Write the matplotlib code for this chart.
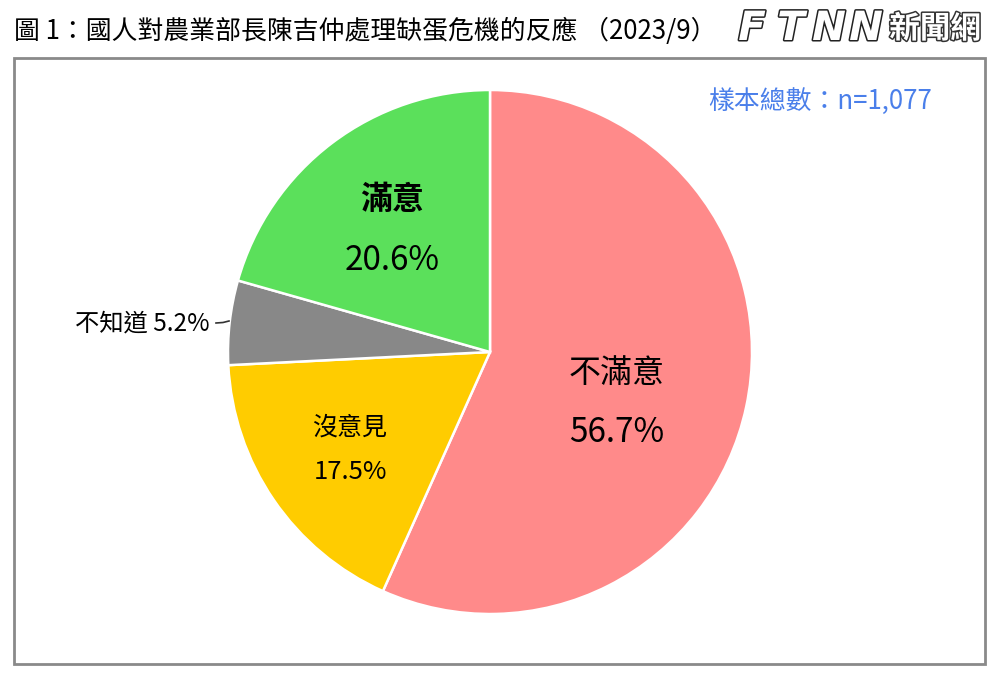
import matplotlib
matplotlib.use("Agg")
import matplotlib.pyplot as plt
import matplotlib.patheffects as pe
from matplotlib.patches import Rectangle

plt.rcParams['font.family'] = ['Noto Sans CJK TC', 'DejaVu Sans']

categories = ['不滿意', '沒意見', '不知道', '滿意']
values = [56.7, 17.5, 5.2, 20.6]
colors = ['#FF8A8A', '#FFCC00', '#888888', '#5BE05B']
title = '圖 1：國人對農業部長陳吉仲處理缺蛋危機的反應 （2023/9）'
sample_note = '樣本總數：n=1,077'
logo_letters = ['F', 'T', 'N', 'N']
logo_text = '新聞網'

W, H = 999, 684
fig = plt.figure(figsize=(W / 100, H / 100), dpi=100)
ax = fig.add_axes([0, 0, 1, 1])

def Y(y):
    return H - y

ax.pie(values, colors=colors, startangle=90, counterclock=False,
       center=(490, Y(352)), radius=262,
       wedgeprops=dict(edgecolor='white', linewidth=1.8))
ax.set_xlim(0, W)
ax.set_ylim(0, H)
ax.set_aspect('equal')
ax.axis('off')

# border
ax.add_patch(Rectangle((14, Y(664)), 971, 606, fill=False,
                       edgecolor='#8a8a8a', linewidth=2))

# title
ax.text(14, Y(31), title, fontsize=18.6, ha='left', va='center', color='black')

# logo
logo_x = [752, 791, 829, 866]
for lx, ch in zip(logo_x, logo_letters):
    ax.text(lx, Y(29), ch, fontsize=29, fontstyle='italic', fontweight='bold',
            ha='center', va='center', color='white', family=['DejaVu Sans'],
            path_effects=[pe.withStroke(linewidth=2.2, foreground='#222222')])
ax.text(935, Y(29), logo_text, fontsize=22, ha='center', va='center', color='white',
        fontweight='bold',
        path_effects=[pe.withStroke(linewidth=2.2, foreground='#333333')])

# sample note
ax.text(820, Y(101), sample_note, fontsize=18.6, ha='center', va='center',
        color='#4A7FEA', fontweight='medium')

# slice labels
lab = dict(ha='center', va='center', color='black')
ax.text(392, Y(200), categories[3], fontsize=23, fontweight='bold', **lab)
ax.text(392, Y(260), f'{values[3]}%', fontsize=24, **lab)
ax.text(617, Y(373), categories[0], fontsize=23, **lab)
ax.text(617, Y(432), f'{values[0]}%', fontsize=24, **lab)
ax.text(350, Y(428), categories[1], fontsize=18, fontweight='medium', **lab)
ax.text(350, Y(472), f'{values[1]}%', fontsize=18.5, **lab)
ax.text(142, Y(323), f'{categories[2]} {values[2]}%', fontsize=17.5, **lab)
ax.plot([216, 223, 229], [Y(323), Y(322.5), Y(321)], color='#333333', linewidth=1.2)

fig.savefig('out.png', dpi=100)
